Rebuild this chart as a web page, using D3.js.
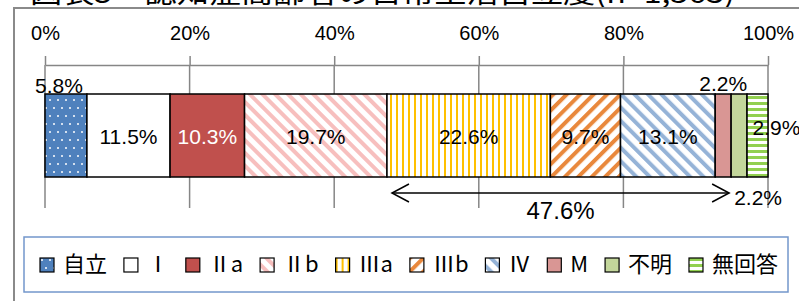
<!DOCTYPE html>
<meta charset="utf-8">
<style>
body { margin: 0; background: #fff; }
.tick text { font: 20px "Liberation Sans", Arial, sans-serif; fill: #000; }
.tick line, .domain { stroke: #868686; stroke-width: 1.5; }
.grid line { stroke: #868686; stroke-width: 1.5; }
.seg rect { stroke: #000; stroke-width: 1.5; }
.lbl { font: 21px "Liberation Sans", Arial, sans-serif; text-anchor: middle; }
.legend text { font: 22px "Noto Sans CJK JP", sans-serif; }
</style>
<body>
<div id="chart"></div>
<script src="https://d3js.org/d3.v7.min.js"></script>
<script>

// data
var categories = ["自立", "Ⅰ", "Ⅱa", "Ⅱb", "Ⅲa", "Ⅲb", "Ⅳ", "M", "不明", "無回答"];
var values = [5.8, 11.5, 10.3, 19.7, 22.6, 9.7, 13.1, 2.2, 2.2, 2.9];
var tickValues = [0, 20, 40, 60, 80, 100];
var bracketFrom = "Ⅲa", bracketTo = "M", bracketLabel = "47.6%";
var title = "図表5　認知症高齢者の日常生活自立度(n=1,563)";

var W = 799, H = 301;
var svg = d3.select("#chart").append("svg")
    .attr("width", W).attr("height", H);

// fill patterns
var defs = svg.append("defs");
function stripes(id, color, rot, period, sw) {
  var p = defs.append("pattern").attr("id", id)
      .attr("patternUnits", "userSpaceOnUse")
      .attr("width", period).attr("height", period)
      .attr("patternTransform", "rotate(" + rot + ")");
  p.append("rect").attr("width", period).attr("height", period).attr("fill", "#fff");
  p.append("rect").attr("width", sw).attr("height", period).attr("fill", color);
}
var dots = defs.append("pattern").attr("id", "p-dots")
    .attr("patternUnits", "userSpaceOnUse").attr("width", 8).attr("height", 16);
dots.append("rect").attr("width", 8).attr("height", 16).attr("fill", "#4F81BD");
dots.append("circle").attr("cx", 2).attr("cy", 4).attr("r", 1).attr("fill", "#fff");
dots.append("circle").attr("cx", 6).attr("cy", 12).attr("r", 1).attr("fill", "#fff");
stripes("p-2b", "#F7BFBE", -45, 9, 4);
stripes("p-3a", "#FFC000", 0, 6, 2);
stripes("p-3b", "#E9883C", 45, 9.5, 4);
stripes("p-4", "#95B3D7", -45, 9.5, 4);
stripes("p-na", "#92D050", 90, 6, 3);

var fills = ["url(#p-dots)", "#fff", "#C0504D", "url(#p-2b)", "url(#p-3a)",
             "url(#p-3b)", "url(#p-4)", "#D99694", "#C3D69B", "url(#p-na)"];

// frame + clipped title
svg.append("text")
    .attr("x", 30).attr("y", 3)
    .attr("textLength", 705).attr("lengthAdjust", "spacingAndGlyphs")
    .style("font", "27px 'Noto Sans CJK JP', sans-serif")
    .text(title);
svg.append("path")
    .attr("d", "M14," + H + "V8H" + W)
    .attr("fill", "none").attr("stroke", "#8A8A8A").attr("stroke-width", 2);

// scales
var x = d3.scaleLinear().domain([0, 100]).range([45, 768]);
var barTop = 94, barBottom = 177, axisY = 65, gridBottom = 208;

var cum = 0;
var data = categories.map(function(c, i) {
  var d = {name: c, value: values[i], start: cum};
  cum += values[i];
  d.end = cum;
  return d;
});

// gridlines
svg.append("g").attr("class", "grid")
  .selectAll("line").data(tickValues).enter().append("line")
    .attr("x1", x).attr("x2", x)
    .attr("y1", axisY).attr("y2", gridBottom);

// axis on top
svg.append("g")
    .attr("transform", "translate(0," + axisY + ")")
    .call(d3.axisTop(x).tickValues(tickValues)
      .tickFormat(function(d) { return d + "%"; })
      .tickSizeInner(9).tickSizeOuter(0).tickPadding(16));

// bars
var seg = svg.selectAll(".seg").data(data).enter().append("g").attr("class", "seg");
seg.append("rect")
    .attr("x", function(d) { return x(d.start); })
    .attr("y", barTop)
    .attr("width", function(d) { return x(d.end) - x(d.start); })
    .attr("height", barBottom - barTop)
    .attr("fill", function(d, i) { return fills[i]; });

// labels; small segments are placed outside
var mid = (barTop + barBottom) / 2;
var special = {
  "自立": {dx: -7, y: barTop - 1},
  "M": {dx: 0, y: barTop - 3},
  "不明": {dx: 19, y: 205},
  "無回答": {dx: 19, y: 135}
};
seg.append("text").attr("class", "lbl")
    .attr("x", function(d) {
      var s = special[d.name];
      return (x(d.start) + x(d.end)) / 2 + (s ? s.dx : 0);
    })
    .attr("y", function(d) {
      var s = special[d.name];
      return s ? s.y : mid + 8;
    })
    .attr("fill", function(d) { return d.name === "Ⅱa" ? "#fff" : "#000"; })
    .text(function(d) { return d.value.toFixed(1) + "%"; });

// bracket arrow
var bFrom = data.find(function(d) { return d.name === bracketFrom; });
var bTo = data.find(function(d) { return d.name === bracketTo; });
var ax1 = x(bFrom.start) + 5, ax2 = x(bTo.end) - 2, ay = 193;
var arrow = svg.append("g").attr("fill", "none").attr("stroke", "#000").attr("stroke-width", 1.5);
arrow.append("line").attr("x1", ax1).attr("x2", ax2).attr("y1", ay).attr("y2", ay);
arrow.append("path").attr("d", "M" + (ax1 + 17) + "," + (ay - 9) + "L" + ax1 + "," + ay + "L" + (ax1 + 17) + "," + (ay + 9));
arrow.append("path").attr("d", "M" + (ax2 - 17) + "," + (ay - 9) + "L" + ax2 + "," + ay + "L" + (ax2 - 17) + "," + (ay + 9));
svg.append("text")
    .attr("x", (ax1 + ax2) / 2).attr("y", 219)
    .attr("text-anchor", "middle")
    .style("font", "24px 'Liberation Sans', Arial, sans-serif")
    .text(bracketLabel);

// legend
var lg = svg.append("g").attr("class", "legend");
lg.append("rect")
    .attr("x", 24).attr("y", 237).attr("width", 764).attr("height", 55)
    .attr("fill", "#fff").attr("stroke", "#7397CB").attr("stroke-width", 1.5);
var items = lg.selectAll(".item").data(data).enter().append("g").attr("class", "item");
items.append("rect")
    .attr("width", 14).attr("height", 14).attr("y", 258)
    .attr("fill", function(d, i) { return fills[i]; })
    .attr("stroke", "#000").attr("stroke-width", 1.2);
items.append("text")
    .attr("x", 23).attr("y", 272)
    .text(function(d) { return d.name; });
var widths = [];
items.select("text").each(function() { widths.push(this.getComputedTextLength()); });
var startX = 40, endX = 778;
var used = d3.sum(widths) + categories.length * 23;
var gap = (endX - startX - used) / (categories.length - 1);
var cx = startX;
items.attr("transform", function(d, i) {
  var t = "translate(" + cx + ",0)";
  cx += 23 + widths[i] + gap;
  return t;
});

</script>
</body>
